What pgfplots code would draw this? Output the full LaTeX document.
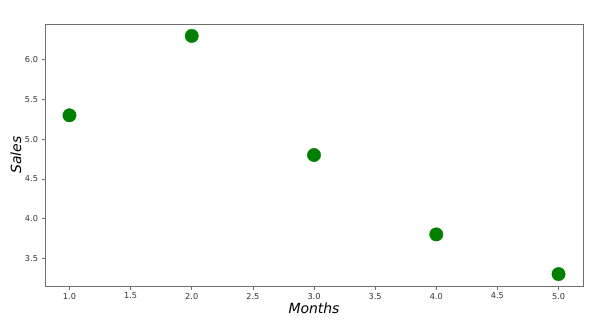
\documentclass[border=0pt]{standalone}
\usepackage{pgfplots}
\pgfplotsset{compat=1.18}
\usepackage{fontspec}
\setmainfont{DejaVu Sans}
\definecolor{mgreen}{RGB}{0,128,0}
\definecolor{axgray}{RGB}{110,110,110}
\begin{document}
\begin{tikzpicture}[x=1bp,y=1bp]
\path[use as bounding box] (0,0) rectangle (600,320);
\begin{axis}[
  at={(45bp,34bp)}, anchor=south west,
  scale only axis, width=538bp, height=262bp,
  xmin=0.8, xmax=5.2, ymin=3.15, ymax=6.45,
  xtick={1,1.5,...,5}, ytick={3.5,4,...,6},
  xticklabel style={/pgf/number format/.cd,fixed,fixed zerofill,precision=1},
  yticklabel style={/pgf/number format/.cd,fixed,fixed zerofill,precision=1},
  /pgf/number format/assume math mode=true,
  tick label style={font=\fontsize{8.2}{10}\selectfont, text=black!80},
  tick align=outside, tick pos=left,
  major tick length=3.5bp,
  axis line style={axgray, line width=0.8pt},
  every tick/.style={axgray, line width=0.6pt},
  xlabel={\textit{Months}}, ylabel={\textit{Sales}},
  label style={font=\fontsize{14}{16}\selectfont},
  xlabel style={at={(axis description cs:0.5,0)}, anchor=north, yshift=-13bp},
  ylabel style={at={(axis description cs:-0.054,0.5)}, anchor=center, rotate=0},
]
\addplot[only marks, mark=*, mark size=6.7bp, mark options={fill=mgreen, draw=mgreen}]
coordinates {(1,5.3) (2,6.3) (3,4.8) (4,3.8) (5,3.3)};
\end{axis}
\end{tikzpicture}
\end{document}
